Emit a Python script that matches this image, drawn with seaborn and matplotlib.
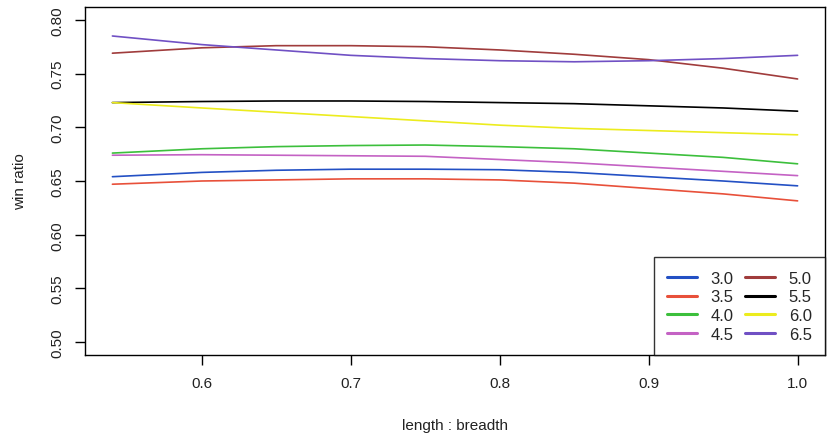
import numpy as np
import pandas as pd
import matplotlib
matplotlib.use("Agg")
import matplotlib.pyplot as plt
import seaborn as sns

# ---- data ----
ratio = [0.54, 0.60, 0.65, 0.70, 0.75, 0.80, 0.85, 0.90, 0.95, 1.00]
s30 = [0.654, 0.658, 0.660, 0.661, 0.661, 0.6605, 0.658, 0.654, 0.650, 0.6455]
s35 = [0.647, 0.650, 0.651, 0.652, 0.652, 0.651, 0.648, 0.643, 0.638, 0.6315]
s40 = [0.676, 0.680, 0.682, 0.683, 0.6835, 0.682, 0.680, 0.676, 0.672, 0.666]
s45 = [0.674, 0.6745, 0.674, 0.6735, 0.673, 0.670, 0.667, 0.663, 0.659, 0.655]
s50 = [0.769, 0.774, 0.776, 0.776, 0.775, 0.772, 0.768, 0.763, 0.755, 0.745]
s55 = [0.723, 0.724, 0.7245, 0.7245, 0.724, 0.723, 0.722, 0.720, 0.718, 0.715]
s60 = [0.723, 0.718, 0.714, 0.710, 0.706, 0.702, 0.699, 0.697, 0.695, 0.693]
s65 = [0.785, 0.777, 0.772, 0.767, 0.764, 0.762, 0.761, 0.762, 0.764, 0.767]
series_names = ["3.0", "3.5", "4.0", "4.5", "5.0", "5.5", "6.0", "6.5"]
series_vals = [s30, s35, s40, s45, s50, s55, s60, s65]
colors = ["#2350c4", "#e8503a", "#3cbf3c", "#c462c4",
          "#a03c3c", "#000000", "#ecec1e", "#7050c4"]
xticks = [0.6, 0.7, 0.8, 0.9, 1.0]
yticks = [0.50, 0.55, 0.60, 0.65, 0.70, 0.75, 0.80]

rows = []
for name, vals in zip(series_names, series_vals):
    for x, y in zip(ratio, vals):
        rows.append({"ratio": x, "win": y, "series": name})
df = pd.DataFrame(rows)

sns.set_style("white")
plt.rcParams["font.family"] = ["Liberation Sans", "DejaVu Sans"]

fig = plt.figure(figsize=(8.27, 4.39), dpi=100)
ax = fig.add_axes([85/827, 1 - 356/439, (825 - 85)/827, (356 - 8)/439])

sns.lineplot(data=df, x="ratio", y="win", hue="series",
             palette=dict(zip(series_names, colors)), hue_order=series_names,
             linewidth=1.2, ax=ax, sort=False, estimator=None, legend=True)

ax.set_xlim(0.5216, 1.0184)
ax.set_ylim(0.488, 0.812)
ax.set_xticks(xticks)
ax.set_xticklabels([f"{t:.1f}" for t in xticks])
ax.set_yticks(yticks)
ax.set_yticklabels([f"{t:.2f}" for t in yticks], rotation=90, va="center")
ax.tick_params(axis="both", which="major", direction="out", length=7, width=1,
               color="black", labelsize=11, labelcolor="#222222",
               bottom=True, left=True, top=False, right=False)
ax.tick_params(axis="x", pad=8)
ax.tick_params(axis="y", pad=8)
for sp in ax.spines.values():
    sp.set_visible(True)
    sp.set_color("black")
    sp.set_linewidth(1.0)

ax.set_xlabel("length : breadth", fontsize=11, labelpad=20, color="#222222")
ax.set_ylabel("win ratio", fontsize=11, labelpad=17, color="#222222")

handles, labels = ax.get_legend_handles_labels()
leg = ax.legend(handles, labels, loc="lower right", ncol=2, frameon=True,
                fancybox=False, borderaxespad=0, fontsize=12,
                handlelength=1.75, handletextpad=0.85, columnspacing=0.7,
                labelspacing=0.22, borderpad=0.8)
leg.get_frame().set_edgecolor("black")
leg.get_frame().set_linewidth(1.0)
for ln in leg.get_lines():
    ln.set_linewidth(2.2)

fig.savefig("out.png", dpi=100)
